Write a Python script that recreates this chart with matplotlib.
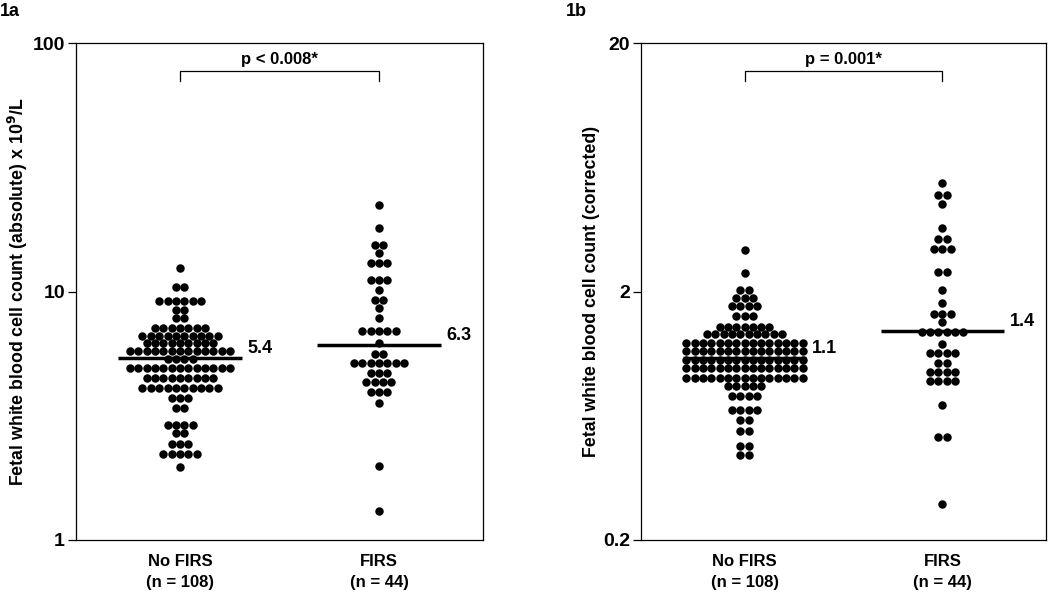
import numpy as np
import matplotlib
matplotlib.use('Agg')
import matplotlib.pyplot as plt

plt.rcParams['font.family'] = ['Liberation Sans', 'DejaVu Sans']
plt.rcParams['font.weight'] = 'bold'

# panel 1a - absolute count (x 10^9/L), one row of dots per value
abs_nofirs_vals = [12.38, 10.47, 9.18, 8.42, 7.79, 7.16, 6.62, 6.18, 5.76, 5.37,
                   4.91, 4.47, 4.09, 3.72, 3.41, 2.90, 2.69, 2.43, 2.21, 1.97]
abs_nofirs_counts = [1, 2, 6, 2, 2, 7, 10, 9, 13, 4, 13, 9, 10, 3, 2, 4, 2, 3, 5, 1]
abs_firs_vals = [22.29, 18.06, 15.39, 14.33, 13.06, 11.12, 10.14, 9.24, 8.61, 7.80,
                 6.93, 6.22, 5.59, 5.14, 4.69, 4.31, 3.95, 3.55, 1.99, 1.31]
abs_firs_counts = [1, 1, 2, 1, 3, 3, 1, 2, 1, 1, 5, 1, 2, 7, 3, 4, 3, 1, 1, 1]

# panel 1b - corrected count
cor_nofirs_vals = [2.94, 2.37, 2.03, 1.89, 1.75, 1.59, 1.44, 1.35, 1.24, 1.15,
                   1.06, 0.98, 0.90, 0.83, 0.76, 0.67, 0.61, 0.55, 0.48, 0.44]
cor_nofirs_counts = [1, 1, 2, 3, 4, 3, 7, 10, 15, 15, 15, 15, 15, 5, 4, 4, 2, 2, 2, 2]
cor_firs_vals = [5.45, 4.89, 4.50, 3.59, 3.25, 2.96, 2.40, 2.03, 1.79, 1.63,
                 1.51, 1.38, 1.23, 1.13, 1.03, 0.95, 0.87, 0.70, 0.52, 0.28]
cor_firs_counts = [1, 2, 1, 1, 2, 3, 2, 1, 1, 3, 1, 6, 1, 4, 2, 4, 4, 1, 2, 1]

groups = ['No FIRS\n(n = 108)', 'FIRS\n(n = 44)']
abs_median_line = [5.4, 6.1]
abs_median_text = ['5.4', '6.3']
cor_median_line = [1.08, 1.39]
cor_median_text = ['1.1', '1.4']

DX = 0.042  # horizontal spacing of dots (data units)


def swarm(ax, xc, vals, counts):
    xs, ys = [], []
    for v, n in zip(vals, counts):
        for i in range(n):
            xs.append(xc + (i - (n - 1) / 2.0) * DX)
            ys.append(v)
    ax.scatter(xs, ys, s=37, color='black', linewidths=0, zorder=3)


def panel(ax, data, medians, med_text, ylim, yticks, yticklabels, ylabel, ptext):
    for k, (vals, counts) in enumerate(data):
        swarm(ax, k, vals, counts)
        ax.plot([k - 0.31, k + 0.31], [medians[k], medians[k]], color='black',
                lw=2.5, zorder=4, solid_capstyle='butt')
        ax.annotate(med_text[k], (k + 0.31, medians[k]), xytext=(4, 7),
                    textcoords='offset points', fontsize=13, fontweight='bold',
                    va='center', ha='left')
    ax.set_yscale('log')
    ax.set_ylim(*ylim)
    ax.set_xlim(-0.523, 1.523)
    ax.set_yticks(yticks)
    ax.set_yticklabels(yticklabels, fontsize=14, fontweight='bold')
    ax.yaxis.set_minor_locator(matplotlib.ticker.NullLocator())
    ax.set_xticks([0, 1])
    ax.set_xticklabels(groups, fontsize=12, fontweight='bold', linespacing=1.55)
    ax.tick_params(axis='x', length=0, pad=10)
    ax.tick_params(axis='y', length=6, width=0.9, direction='out', pad=2)
    for s in ax.spines.values():
        s.set_linewidth(0.9)
    ax.set_ylabel(ylabel, fontsize=12.8, fontweight='bold', labelpad=2)
    # significance bracket
    tr = ax.get_xaxis_transform()
    ax.plot([0, 0, 1, 1], [0.9235, 0.9437, 0.9437, 0.9235], color='black',
            lw=0.9, transform=tr, clip_on=False)
    ax.text(0.5, 0.9658, ptext, transform=tr, ha='center', va='center',
            fontsize=12, fontweight='bold')


fig = plt.figure(figsize=(10.5, 5.95), dpi=100)
ax1 = fig.add_axes([76 / 1050, 55 / 595, 407 / 1050, 497 / 595])
ax2 = fig.add_axes([641 / 1050, 55 / 595, 405 / 1050, 497 / 595])

panel(ax1, [(abs_nofirs_vals, abs_nofirs_counts), (abs_firs_vals, abs_firs_counts)],
      abs_median_line, abs_median_text, (1, 100), [1, 10, 100], ['1', '10', '100'],
      'Fetal white blood cell count (absolute) x 10$^\\mathbf{9}$/L', 'p < 0.008*')
panel(ax2, [(cor_nofirs_vals, cor_nofirs_counts), (cor_firs_vals, cor_firs_counts)],
      cor_median_line, cor_median_text, (0.2, 20), [0.2, 2, 20], ['0.2', '2', '20'],
      'Fetal white blood cell count (corrected)', 'p = 0.001*')

fig.text(0 / 1050, 1 - 12 / 595, '1a', fontsize=13, fontweight='bold', va='center')
fig.text(566 / 1050, 1 - 12 / 595, '1b', fontsize=13, fontweight='bold', va='center')

fig.savefig('out.png', dpi=100)
